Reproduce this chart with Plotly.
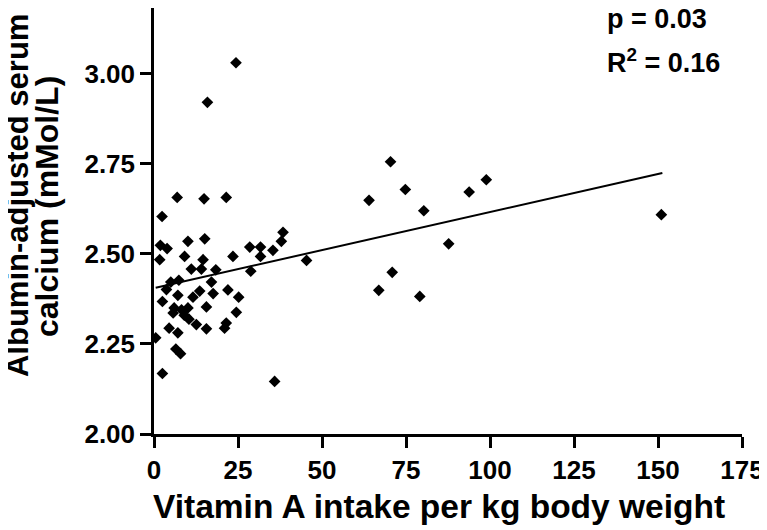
import plotly.graph_objects as go

# Data
vit_a = [24.4, 15.9, 6.9, 14.9, 21.5, 2.4, 38.4, 1.9, 3.9, 10.1,
         15.1, 28.5, 31.7, 37.9, 35.4, 31.7, 1.7, 9.1, 14.6, 23.5,
         11.1, 14.1, 18.4, 28.8, 5.0, 7.4, 17.1, 3.7, 2.5, 7.1,
         11.6, 13.6, 17.6, 22.0, 25.2, 15.6, 5.7, 8.2, 10.1, 24.5,
         10.4, 12.6, 21.5, 21.0, 15.6, 4.5, 7.1, 0.5, 6.5, 7.9,
         2.5, 35.9, 70.4, 74.8, 64.0, 80.3, 93.8, 98.9, 87.7, 45.4,
         70.9, 66.9, 79.1, 151.0, 6.0, 9.0]
calcium = [3.031, 2.921, 2.657, 2.653, 2.657, 2.604, 2.560, 2.524, 2.515, 2.535,
           2.542, 2.519, 2.519, 2.535, 2.510, 2.493, 2.484, 2.493, 2.484, 2.493,
           2.458, 2.458, 2.456, 2.452, 2.422, 2.427, 2.422, 2.401, 2.368, 2.385,
           2.380, 2.397, 2.390, 2.400, 2.380, 2.353, 2.336, 2.345, 2.350, 2.338,
           2.319, 2.304, 2.308, 2.294, 2.292, 2.294, 2.281, 2.267, 2.236, 2.223,
           2.168, 2.146, 2.756, 2.679, 2.649, 2.620, 2.672, 2.706, 2.528, 2.482,
           2.449, 2.399, 2.382, 2.609, 2.350, 2.330]
fit_x = [0.5, 151.3]
fit_y = [2.406, 2.725]
x_ticks = [0, 25, 50, 75, 100, 125, 150, 175]
y_ticks = [2.00, 2.25, 2.50, 2.75, 3.00]

FONT = "Arial, Liberation Sans, sans-serif"

fig = go.Figure()
fig.add_trace(go.Scatter(x=vit_a, y=calcium, mode="markers",
                         marker=dict(symbol="diamond", size=9, color="black",
                                     line=dict(width=0)),
                         showlegend=False))
fig.add_trace(go.Scatter(x=fit_x, y=fit_y, mode="lines",
                         line=dict(color="black", width=2), showlegend=False))

axis_common = dict(showgrid=False, zeroline=False, showline=True, linecolor="black",
                   linewidth=2.5, ticks="outside", ticklen=11, tickwidth=2.5,
                   tickcolor="black",
                   tickfont=dict(family=FONT, size=26, color="black", weight="bold"))

fig.update_xaxes(range=[0, 175], tickvals=x_ticks, **axis_common)
fig.update_yaxes(range=[2.0, 3.183], tickvals=y_ticks, tickformat=".2f", **axis_common)

def tf(size):
    return dict(family=FONT, size=size, color="black", weight="bold")

fig.update_layout(
    width=759, height=522,
    margin=dict(l=146, r=25, t=0, b=96, pad=0),
    plot_bgcolor="white", paper_bgcolor="white",
    annotations=[
        dict(text="Vitamin A intake per kg body weight", xref="paper", yref="paper",
             x=0.485, y=-0.171, xanchor="center", yanchor="middle",
             showarrow=False, font=tf(33.5)),
        dict(text="Albumin-adjusted serum", xref="paper", yref="paper",
             x=-0.231, y=0.559, xanchor="center", yanchor="middle", textangle=-90,
             showarrow=False, font=tf(31)),
        dict(text="calcium (mMol/L)", xref="paper", yref="paper",
             x=-0.182, y=0.535, xanchor="center", yanchor="middle", textangle=-90,
             showarrow=False, font=tf(32)),
        dict(text="p = 0.03", xref="paper", yref="paper",
             x=0.767, y=0.975, xanchor="left", yanchor="middle",
             showarrow=False, font=tf(27)),
        dict(text="R<sup>2</sup> = 0.16", xref="paper", yref="paper",
             x=0.767, y=0.876, xanchor="left", yanchor="middle",
             showarrow=False, font=tf(27)),
    ],
)

fig.write_html("out.html")
